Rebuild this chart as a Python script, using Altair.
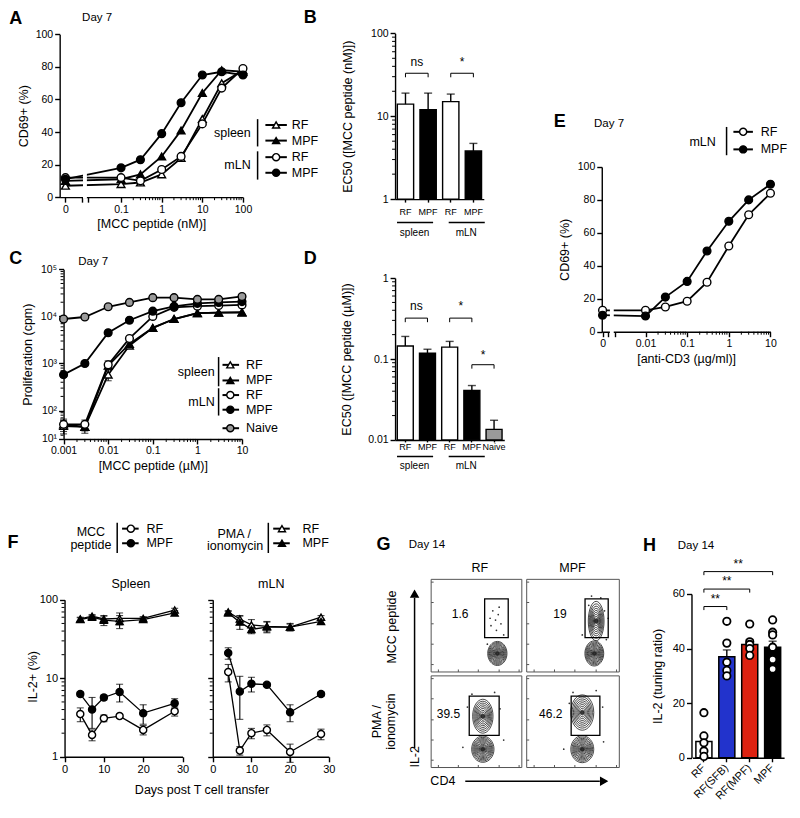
import math
import altair as alt
import pandas as pd

# ============================ DATA ============================
A_conc = [0, 0.1, 0.3, 1, 3, 10, 30, 100]
A_spleen_RF = [7, 8, 9, 14, 24, 48, 70, 78]
A_spleen_MPF = [10, 11, 14, 25, 41, 64, 78, 77]
A_mLN_RF = [12, 12, 10, 17, 25, 45, 67, 79]
A_mLN_MPF = [11, 18, 23, 39, 58, 75, 77, 75]

B_groups = ["spleen RF", "spleen MPF", "mLN RF", "mLN MPF"]
B_ec50 = [14, 12, 15, 3.8]
B_sem = [5, 7, 3.5, 0.9]

C_conc = [0.001, 0.003, 0.01, 0.03, 0.1, 0.3, 1, 3, 10]
C_spleen_RF = [47, 45, 580, 2400, 5700, 8800, 11700, 12000, 12300]
C_spleen_MPF = [51, 45, 900, 2600, 5700, 8800, 11700, 12000, 12000]
C_mLN_RF = [51, 51, 940, 3400, 10000, 15600, 16500, 17000, 17500]
C_mLN_MPF = [580, 1000, 4500, 8300, 12900, 16300, 18900, 19800, 20600]
C_naive = [8800, 9700, 16000, 19800, 25000, 25000, 23000, 23000, 26500]
C_spleen_RF_err = [15, 12, 150, 0, 0, 0, 0, 0, 0]
C_spleen_MPF_err = [8, 8, 0, 0, 0, 0, 0, 0, 0]
C_mLN_RF_err = [15, 12, 200, 0, 0, 0, 0, 0, 0]
C_mLN_MPF_err = [60, 100, 0, 0, 0, 0, 0, 0, 0]

D_groups = ["spleen RF", "spleen MPF", "mLN RF", "mLN MPF", "Naive"]
D_ec50 = [0.145, 0.118, 0.14, 0.041, 0.0135]
D_sem = [0.045, 0.014, 0.025, 0.006, 0.004]

E_conc = [0, 0.01, 0.03, 0.1, 0.3, 1, 3, 10]
E_RF = [13, 13, 15, 18.5, 30, 52, 71, 84]
E_MPF = [10, 9.5, 21, 30.5, 49, 67, 80, 89.5]

F_days = [4, 7, 10, 14, 20, 28]
F_spleen_MCC_RF = [3.5, 1.9, 3.1, 3.3, 2.2, 3.8]
F_spleen_MCC_RF_err = [0.7, 0.3, 0.3, 0.2, 0.3, 0.5]
F_spleen_MCC_MPF = [6.3, 4.0, 5.7, 6.7, 3.6, 4.8]
F_spleen_MCC_MPF_err = [0.4, 1.7, 0.4, 1.7, 1.0, 0.7]
F_spleen_PMA_RF = [57, 62, 57, 58, 58, 74]
F_spleen_PMA_RF_err = [3, 3, 5, 10, 3, 4]
F_spleen_PMA_MPF = [56, 60, 55, 53, 56, 68]
F_spleen_PMA_MPF_err = [3, 3, 8, 10, 4, 5]
F_mLN_MCC_RF = [12, 1.2, 2.0, 2.2, 1.15, 1.95]
F_mLN_MCC_RF_err = [3, 0.15, 0.3, 0.35, 0.3, 0.3]
F_mLN_MCC_MPF = [21, 6.8, 8.5, 8.3, 3.7, 6.3]
F_mLN_MCC_MPF_err = [3.5, 3.8, 1.8, 0.4, 0.9, 0.4]
F_mLN_PMA_RF = [70, 57, 48, 46, 45, 60]
F_mLN_PMA_RF_err = [3, 6, 8, 7, 4, 3]
F_mLN_PMA_MPF = [68, 52, 42, 45, 45, 53]
F_mLN_PMA_MPF_err = [3, 10, 5, 7, 5, 3]

G_cells = ["RF / MCC peptide", "MPF / MCC peptide", "RF / PMA", "MPF / PMA"]
G_percent = ["1.6", "19", "39.5", "46.2"]

H_groups = ["RF", "RF(SFB)", "RF(MPF)", "MPF"]
H_mean = [6, 37, 41.5, 40.5]
H_sem = [2.0, 2.5, 1.8, 2.2]
H_colors = ["white", "#2233cc", "#dd2211", "black"]
H_points = {
    "RF": [16.5, 8, 5.5, 2.5, 0.5],
    "RF(SFB)": [50, 42, 35, 32, 30],
    "RF(MPF)": [49, 42.5, 41.5, 40, 37.5],
    "MPF": [50.5, 46, 45, 40.5, 36, 32.5],
}

# ============================ LAYOUT ============================
S = 0.975
W, H = 780, 796
FONT = "Liberation Sans"
TS = 12.5   # axis-title font size
LS = 10.5   # tick-label font size


def X(v):
    return round((v - 1) * S, 2)


def Y(v):
    return round((v - 1) * S, 2)


def axis(orient, pos, **kw):
    d = dict(grid=False, domainColor="black", domainWidth=1.4, tickColor="black", tickWidth=1.4,
             tickSize=5, labelFont=FONT, labelFontSize=LS, labelColor="black", labelPadding=2,
             labelOverlap=False, labelFlush=False, labelBound=False, titleFont=FONT, titleFontSize=TS,
             titleFontWeight="normal", titleColor="black", title=None)
    d.update(kw)
    d["offset"] = -X(pos) if orient == "left" else Y(pos) - H
    return alt.Axis(orient=orient, **d)


class Ctx:
    """scales + axes of one panel; every layer of the panel repeats them (so axes merge cleanly)"""

    def __init__(self, xs, xa, ys, ya):
        self.xs, self.xa, self.ys, self.ya = xs, xa, ys, ya

    def x(self, f):
        return alt.X(f, scale=self.xs, axis=self.xa)

    def y(self, f):
        return alt.Y(f, scale=self.ys, axis=self.ya)


def long(xs, series, errs=None):
    rows = []
    for name, vals in series.items():
        ee = (errs or {}).get(name, [0] * len(vals))
        for x, v, e in zip(xs, vals, ee):
            rows.append(dict(x=x, val=v, series=name, lo=v - e, hi=v + e, err=e))
    return pd.DataFrame(rows)


def minor_x(vals, ctx, yref, ln=3):
    return alt.Chart(pd.DataFrame({"v": vals})).mark_rule(color="black", strokeWidth=1).encode(
        x=ctx.x("v:Q"), y=alt.value(Y(yref)), y2=alt.value(Y(yref) + ln))


def minor_y(vals, ctx, xref, ln=3):
    return alt.Chart(pd.DataFrame({"v": vals})).mark_rule(color="black", strokeWidth=1).encode(
        y=ctx.y("v:Q"), x=alt.value(X(xref) - ln), x2=alt.value(X(xref)))


def gap(ctx, a, b, ytop, ybot):
    return alt.Chart(pd.DataFrame({"a": [a], "b": [b]})).mark_rect(color="white").encode(
        x=ctx.x("a:Q"), x2="b:Q", y=alt.value(Y(ytop)), y2=alt.value(Y(ybot) + 1.5))


def curve_panel(df, ctx, styles, calc=None, lw=1.8, size=60, cap=7, under=(), over=()):
    base = alt.Chart(df)
    xf = "x:Q"
    if calc is not None:
        base = base.transform_calculate(pos=calc)
        xf = "pos:Q"
    layers = []
    names = list(styles)
    for s in names:
        layers.append(base.transform_filter(alt.datum.series == s).mark_line(
            color="black", strokeWidth=lw).encode(x=ctx.x(xf), y=ctx.y("val:Q")))
    layers.extend(under)
    if df["err"].max() > 0:
        eb = base.transform_filter("datum.err > 0")
        layers.append(eb.mark_rule(color="black", strokeWidth=1.1).encode(x=ctx.x(xf), y=ctx.y("lo:Q"), y2="hi:Q"))
        for f in ("lo", "hi"):
            layers.append(eb.mark_tick(orient="horizontal", size=cap, thickness=1.1, color="black").encode(
                x=ctx.x(xf), y=ctx.y(f"{f}:Q")))
    for s in names:
        shape, fill = styles[s]
        layers.append(base.transform_filter(alt.datum.series == s).mark_point(
            shape=shape, filled=True, fill=fill, stroke="black", strokeWidth=1.4, size=size, opacity=1).encode(
            x=ctx.x(xf), y=ctx.y("val:Q")))
    layers.extend(over)
    return alt.layer(*layers)


def bar_panel(groups, vals, errs, fills, ctx, base_val, brackets, sig, dx, minors):
    df = pd.DataFrame({"cat": groups, "val": vals, "hi": [v + e for v, e in zip(vals, errs)],
                       "fill": fills, "base": base_val})
    c = alt.Chart(df)
    layers = [
        c.mark_bar(stroke="black", strokeWidth=1.4).encode(
            x=ctx.x("cat:N"), y=ctx.y("val:Q"), y2="base:Q", fill=alt.Fill("fill:N", scale=None)),
        c.mark_rule(color="black", strokeWidth=1.4).encode(x=ctx.x("cat:N"), y=ctx.y("val:Q"), y2="hi:Q"),
        c.mark_tick(orient="horizontal", size=8, thickness=1.4, color="black").encode(
            x=ctx.x("cat:N"), y=ctx.y("hi:Q")),
    ]
    rows = []
    for i, (c1, c2, lev, end) in enumerate(brackets):
        rows += [dict(cat=c1, v=end, b=i, o=0), dict(cat=c1, v=lev, b=i, o=1),
                 dict(cat=c2, v=lev, b=i, o=2), dict(cat=c2, v=end, b=i, o=3)]
    layers.append(alt.Chart(pd.DataFrame(rows)).mark_line(color="black", strokeWidth=1).encode(
        x=ctx.x("cat:N"), y=ctx.y("v:Q"), detail="b:N", order="o:Q"))
    for off, items in sig:
        layers.append(alt.Chart(pd.DataFrame(items, columns=["cat", "v", "t"])).mark_text(
            font=FONT, fontSize=12, dx=off * dx, baseline="middle", color="black").encode(
            x=ctx.x("cat:N"), y=ctx.y("v:Q"), text="t:N"))
    layers.extend(minors)
    return alt.layer(*layers)


ARC = "M0,-1A{r},1,0,1,1,0,1A{r},1,0,1,1,0,-1Z"

# ----------------------------- Panel A
ZERO_A = -2.368
ctxA = Ctx(
    alt.Scale(domain=[-2.51, 2.0], range=[X(54), X(242)], nice=False, zero=False),
    axis("bottom", 195, values=[ZERO_A, -1.96, -1.816, -1, 0, 1, 2],
         labelExpr="datum.value < -2.2 ? '0' : (datum.value < -1.5 ? '' : format(pow(10, datum.value), '~g'))",
         title="[MCC peptide (nM)]", titlePadding=3),
    alt.Scale(domain=[0, 100], range=[Y(195), Y(28)], nice=False, zero=False),
    axis("left", 54, values=[0, 20, 40, 60, 80, 100], title="CD69+ (%)", titlePadding=5))
a_minor = [math.log10(m * 10 ** e) for e in (-1, 0, 1) for m in range(2, 10)]
panelA = curve_panel(
    long(A_conc, {"spleen RF": A_spleen_RF, "spleen MPF": A_spleen_MPF, "mLN RF": A_mLN_RF, "mLN MPF": A_mLN_MPF}),
    ctxA,
    {"spleen RF": ("triangle-up", "white"), "spleen MPF": ("triangle-up", "black"),
     "mLN RF": ("circle", "white"), "mLN MPF": ("circle", "black")},
    calc=f"datum.x > 0 ? log(datum.x) / LN10 : {ZERO_A}",
    under=[gap(ctxA, -1.936, -1.84, 27, 195), minor_x(a_minor, ctxA, 195)])

# ----------------------------- Panel B
ctxB = Ctx(
    alt.Scale(domain=B_groups, range=[X(398), X(489)], paddingInner=0.28, paddingOuter=0.1),
    axis("bottom", 197, labelExpr="split(datum.label, ' ')[1]", tickSize=3, labelFontSize=9, labelPadding=5,
         labelAngle=0, labelAlign="center", labelBaseline="top"),
    alt.Scale(type="log", domain=[1, 100], range=[Y(197), Y(27)], nice=False),
    axis("left", 398, values=[1, 10, 100], format="~g", title="EC50 ([MCC peptide (nM)])", titlePadding=16))
b_step = (X(489) - X(398)) / (4 - 0.28 + 0.2)
panelB = bar_panel(
    B_groups, B_ec50, B_sem, ["white", "black", "white", "black"], ctxB,
    1, [("spleen RF", "spleen MPF", 33, 29.5), ("mLN RF", "mLN MPF", 33, 29.5)],
    [(0.5, [("spleen RF", 45, "ns"), ("mLN RF", 45, "*")])], b_step,
    [minor_y([m * 10 ** e for e in (0, 1) for m in range(2, 10)], ctxB, 398)])

# ----------------------------- Panel C
C_LO = 25  # bottom of the proliferation axis (labelled 10¹ in the figure)
ctxC = Ctx(
    alt.Scale(type="log", domain=[0.001, 10], range=[X(58), X(241)], nice=False),
    axis("bottom", 443, values=[0.001, 0.01, 0.1, 1, 10], format="~g",
         title="[MCC peptide (µM)]", titlePadding=3),
    alt.Scale(type="log", domain=[C_LO, 100000], range=[Y(443), Y(269)], nice=False),
    axis("left", 58, values=[C_LO, 100, 1000, 10000, 100000],
         labelExpr="datum.value < 50 ? '10¹' : '10' + ['⁰','¹','²','³','⁴','⁵'][round(log(datum.value) / LN10)]",
         title="Proliferation (cpm)", titlePadding=6))
panelC = curve_panel(
    long(C_conc, {"spleen RF": C_spleen_RF, "spleen MPF": C_spleen_MPF, "mLN RF": C_mLN_RF,
                  "mLN MPF": C_mLN_MPF, "Naive": C_naive},
         {"spleen RF": C_spleen_RF_err, "spleen MPF": C_spleen_MPF_err, "mLN RF": C_mLN_RF_err,
          "mLN MPF": C_mLN_MPF_err}),
    ctxC,
    {"spleen RF": ("triangle-up", "white"), "spleen MPF": ("triangle-up", "black"),
     "mLN RF": ("circle", "white"), "mLN MPF": ("circle", "black"), "Naive": ("circle", "#9a9a9a")},
    under=[minor_x([m * 10 ** e for e in (-3, -2, -1, 0) for m in range(2, 10)], ctxC, 443),
           minor_y([m * 10 ** e for e in (1, 2, 3, 4) for m in range(2, 10) if m * 10 ** e > C_LO], ctxC, 58)])

# ----------------------------- Panel D
ctxD = Ctx(
    alt.Scale(domain=D_groups, range=[X(398), X(510)], paddingInner=0.28, paddingOuter=0.1),
    axis("bottom", 444, labelExpr="datum.label == 'Naive' ? 'Naive' : split(datum.label, ' ')[1]",
         tickSize=2, labelFontSize=9, labelPadding=1, labelAngle=0, labelAlign="center", labelBaseline="top"),
    alt.Scale(type="log", domain=[0.01, 1], range=[Y(444), Y(278)], nice=False),
    axis("left", 398, values=[0.01, 0.1, 1], format="~g", title="EC50 ([MCC peptide (µM)])", titlePadding=14))
d_step = (X(510) - X(398)) / (5 - 0.28 + 0.2)
panelD = bar_panel(
    D_groups, D_ec50, D_sem, ["white", "black", "white", "black", "#9a9a9a"], ctxD,
    0.01, [("spleen RF", "spleen MPF", 0.32, 0.285), ("mLN RF", "mLN MPF", 0.32, 0.285),
           ("mLN MPF", "Naive", 0.085, 0.076)],
    [(0.5, [("spleen RF", 0.45, "ns"), ("mLN RF", 0.45, "*"), ("mLN MPF", 0.113, "*")])], d_step,
    [minor_y([m * 10 ** e for e in (-2, -1) for m in range(2, 10)], ctxD, 398)])

# ----------------------------- Panel E
ZERO_E = -3.031
ctxE = Ctx(
    alt.Scale(domain=[-3.05, 1.0], range=[X(610), X(783)], nice=False, zero=False),
    axis("bottom", 333, values=[ZERO_E, -2.89, -2.727, -2, -1, 0, 1],
         labelExpr="datum.value < -3 ? '0' : (datum.value < -2.5 ? '' : format(pow(10, datum.value), '~g'))",
         title="[anti-CD3 (µg/ml)]", titlePadding=3),
    alt.Scale(domain=[0, 100], range=[Y(333), Y(164)], nice=False, zero=False),
    axis("left", 610, values=[0, 20, 40, 60, 80, 100], title="CD69+ (%)", titlePadding=6))
panelE = curve_panel(
    long(E_conc, {"RF": E_RF, "MPF": E_MPF}), ctxE,
    {"RF": ("circle", "white"), "MPF": ("circle", "black")},
    calc=f"datum.x > 0 ? log(datum.x) / LN10 : {ZERO_E}",
    under=[gap(ctxE, -2.855, -2.762, 163, 333),
           minor_x([math.log10(m * 10 ** e) for e in (-2, -1, 0) for m in range(2, 10)], ctxE, 333)])

# ----------------------------- Panel F
f_styles = {"MCC RF": ("circle", "white"), "MCC MPF": ("circle", "black"),
            "PMA RF": ("triangle-up", "white"), "PMA MPF": ("triangle-up", "black")}
f_minor = [m * 10 ** e for e in (0, 1) for m in range(2, 10)]


def f_panel(x0, x1, series, errs, labels):
    ctx = Ctx(
        alt.Scale(domain=[0, 30], range=[X(x0), X(x1)], nice=False, zero=False),
        axis("bottom", 769, values=[0, 10, 20, 30], labelFontSize=11),
        alt.Scale(type="log", domain=[1, 100], range=[Y(769), Y(608)], nice=False),
        axis("left", x0, values=[1, 10, 100], format="~g", labels=labels, labelFontSize=11))
    return curve_panel(long(F_days, series, errs), ctx, f_styles, lw=1.3, size=50, cap=7,
                       under=[minor_y(f_minor, ctx, x0)])


panelF1 = f_panel(59, 180,
                  {"MCC RF": F_spleen_MCC_RF, "MCC MPF": F_spleen_MCC_MPF,
                   "PMA RF": F_spleen_PMA_RF, "PMA MPF": F_spleen_PMA_MPF},
                  {"MCC RF": F_spleen_MCC_RF_err, "MCC MPF": F_spleen_MCC_MPF_err,
                   "PMA RF": F_spleen_PMA_RF_err, "PMA MPF": F_spleen_PMA_MPF_err}, True)
panelF2 = f_panel(211, 330,
                  {"MCC RF": F_mLN_MCC_RF, "MCC MPF": F_mLN_MCC_MPF,
                   "PMA RF": F_mLN_PMA_RF, "PMA MPF": F_mLN_PMA_MPF},
                  {"MCC RF": F_mLN_MCC_RF_err, "MCC MPF": F_mLN_MCC_MPF_err,
                   "PMA RF": F_mLN_PMA_RF_err, "PMA MPF": F_mLN_PMA_MPF_err}, False)

# ----------------------------- Panel G (flow plots, schematic)
G_frames = [(435, 528, 587, 682), (533, 628, 587, 682), (435, 528, 686, 780), (533, 628, 686, 780)]
G_gates = [(59, 85, 37, 79), (63, 88, 37, 79), (42, 75, 35, 78), (48, 79, 35, 78)]
G_text_pos = [(32, 63), (36, 63), (19, 58), (26, 58)]
G_blobs = [
    [(73, 20, 0.8, [6, 18, 35, 60, 90, 130, 180, 240, 310, 390, 480, 580])],
    [(73, 20, 0.75, [6, 18, 35, 60, 95, 140, 195, 260, 335, 420, 520, 630]),
     (75, 55, 0.4, [30, 90, 180, 300, 450, 640, 880, 1180, 1550])],
    [(57, 20, 0.85, [6, 18, 38, 65, 100, 150, 210, 280, 360, 450, 560, 690]),
     (57, 56, 0.6, [25, 70, 140, 240, 360, 510, 690, 900, 1150])],
    [(60, 20, 0.85, [6, 18, 38, 68, 105, 155, 215, 290, 375, 470, 590, 730]),
     (60, 60, 0.65, [25, 75, 150, 255, 385, 545, 740, 970, 1250])],
]
G_dots = [
    [(66, 50), (71, 56), (74, 62), (68, 66), (77, 52), (72, 45), (75, 70), (65, 58), (80, 40), (62, 30)],
    [(70, 82), (80, 80), (67, 72), (84, 66), (88, 58), (60, 40), (86, 35)],
    [(45, 80), (70, 82), (76, 64), (40, 66), (80, 30), (35, 22)],
    [(50, 82), (75, 84), (82, 66), (46, 70), (83, 28), (40, 20)],
]
G_ticks = [8, 30, 52, 75, 97]


def g_panel(i):
    fx0, fx1, fy0, fy1 = G_frames[i]
    xs = alt.Scale(domain=[0, 100], range=[X(fx0), X(fx1)], nice=False, zero=False)
    ys = alt.Scale(domain=[0, 100], range=[Y(fy1), Y(fy0)], nice=False, zero=False)
    ex = lambda f: alt.X(f, scale=xs, axis=None)
    ey = lambda f: alt.Y(f, scale=ys, axis=None)
    frame = alt.Chart(pd.DataFrame({"a": [0], "b": [100], "c": [0], "d": [100]})).mark_rect(
        fill="white", fillOpacity=0, stroke="#555555", strokeWidth=1).encode(x=ex("a:Q"), x2="b:Q", y=ey("c:Q"), y2="d:Q")
    gx0, gx1, gy0, gy1 = G_gates[i]
    gate = alt.Chart(pd.DataFrame({"a": [gx0], "b": [gx1], "c": [gy0], "d": [gy1]})).mark_rect(
        fill="white", fillOpacity=0, stroke="black", strokeWidth=1.3).encode(x=ex("a:Q"), x2="b:Q", y=ey("c:Q"), y2="d:Q")
    rows = []
    for cx, cy, r, sizes in G_blobs[i]:
        for s in sizes:
            rows.append(dict(x=cx, y=cy, s=s, sh=ARC.format(r=r)))
    rings = alt.Chart(pd.DataFrame(rows)).mark_point(filled=False, color="#1a1a1a", strokeWidth=0.8, opacity=1).encode(
        x=ex("x:Q"), y=ey("y:Q"), size=alt.Size("s:Q", scale=None), shape=alt.Shape("sh:N", scale=None))
    cores = alt.Chart(pd.DataFrame([dict(x=b[0], y=b[1]) for b in G_blobs[i]])).mark_point(
        filled=True, color="#222222", size=20, opacity=0.9).encode(x=ex("x:Q"), y=ey("y:Q"))
    dots = alt.Chart(pd.DataFrame(G_dots[i], columns=["x", "y"])).mark_circle(color="#333333", size=3, opacity=1).encode(
        x=ex("x:Q"), y=ey("y:Q"))
    tx, ty = G_text_pos[i]
    txt = alt.Chart(pd.DataFrame({"x": [tx], "y": [ty], "t": [G_percent[i]]})).mark_text(
        font=FONT, fontSize=12, color="black").encode(x=ex("x:Q"), y=ey("y:Q"), text="t:N")
    tk_l = alt.Chart(pd.DataFrame({"v": G_ticks})).mark_rule(color="#555555", strokeWidth=1).encode(
        y=ey("v:Q"), x=alt.value(X(fx0)), x2=alt.value(X(fx0) + 2.5))
    tk_b = alt.Chart(pd.DataFrame({"v": G_ticks})).mark_rule(color="#555555", strokeWidth=1).encode(
        x=ex("v:Q"), y=alt.value(Y(fy1) - 2.5), y2=alt.value(Y(fy1)))
    return alt.layer(frame, tk_l, tk_b, rings, cores, dots, gate, txt)


panelsG = [g_panel(i) for i in range(4)]

# ----------------------------- Panel H
ctxH = Ctx(
    alt.Scale(domain=H_groups, range=[X(703), X(797)], paddingInner=0.3, paddingOuter=0.15),
    axis("bottom", 770, labelAngle=-45, labelAlign="right", labelBaseline="middle", labelPadding=4,
         tickSize=4, labelFontSize=11),
    alt.Scale(domain=[0, 60], range=[Y(770), Y(602)], nice=False, zero=False),
    axis("left", 702, values=[0, 20, 40, 60], title="IL-2 (tuning ratio)", titlePadding=8, labelFontSize=11))
h_step = (X(797) - X(703)) / (4 - 0.3 + 0.3)
h_df = pd.DataFrame({"cat": H_groups, "val": H_mean, "hi": [m + e for m, e in zip(H_mean, H_sem)],
                     "fill": H_colors, "base": 0})
h_pts = pd.DataFrame([dict(cat=k, v=v) for k, vs in H_points.items() for v in vs])
h_layers = [
    alt.Chart(h_df).mark_bar(stroke="black", strokeWidth=1.5).encode(
        x=ctxH.x("cat:N"), y=ctxH.y("val:Q"), y2="base:Q", fill=alt.Fill("fill:N", scale=None)),
    alt.Chart(h_df).mark_rule(color="black", strokeWidth=1.4).encode(x=ctxH.x("cat:N"), y=ctxH.y("val:Q"), y2="hi:Q"),
    alt.Chart(h_df).mark_tick(orient="horizontal", size=8, thickness=1.4, color="black").encode(
        x=ctxH.x("cat:N"), y=ctxH.y("hi:Q")),
    alt.Chart(h_pts).mark_point(shape="circle", filled=True, fill="white", stroke="black", strokeWidth=1.8,
                                size=55, opacity=1).encode(x=ctxH.x("cat:N"), y=ctxH.y("v:Q")),
]
h_br = []
for i, (c2, lev) in enumerate([("RF(SFB)", 55.4), ("RF(MPF)", 61.8), ("MPF", 68.2)]):
    h_br += [dict(cat="RF", v=lev - 1.3, b=i, o=0), dict(cat="RF", v=lev, b=i, o=1),
             dict(cat=c2, v=lev, b=i, o=2), dict(cat=c2, v=lev - 1.3, b=i, o=3)]
h_layers.append(alt.Chart(pd.DataFrame(h_br)).mark_line(color="black", strokeWidth=1).encode(
    x=ctxH.x("cat:N"), y=ctxH.y("v:Q"), detail="b:N", order="o:Q"))
h_layers.append(alt.Chart(pd.DataFrame({"cat": ["RF", "RF(SFB)"], "v": [58.2, 71.0], "t": ["**", "**"]})).mark_text(
    font=FONT, fontSize=12, dx=h_step / 2, color="black").encode(x=ctxH.x("cat:N"), y=ctxH.y("v:Q"), text="t:N"))
h_layers.append(alt.Chart(pd.DataFrame({"cat": ["RF(SFB)"], "v": [64.6], "t": ["**"]})).mark_text(
    font=FONT, fontSize=12, color="black").encode(x=ctxH.x("cat:N"), y=ctxH.y("v:Q"), text="t:N"))
panelH = alt.layer(*h_layers)

# ============================ ANNOTATIONS (pixel space) ============================


def texts(rows, align="left", weight="normal", size=11):
    df = pd.DataFrame(rows, columns=["x", "y", "t", "a"])
    df["x"] = df["x"].map(X)
    df["y"] = df["y"].map(Y)
    return alt.Chart(df).mark_text(align=align, baseline="middle", font=FONT, fontSize=size,
                                   fontWeight=weight, color="black").encode(
        x=alt.X("x:Q", scale=None, axis=None), y=alt.Y("y:Q", scale=None, axis=None), text="t:N",
        angle=alt.Angle("a:Q", scale=None))


def rules(rows, width=1.5):
    df = pd.DataFrame(rows, columns=["x", "y", "x2", "y2"])
    for c in ("x", "x2"):
        df[c] = df[c].map(X)
    for c in ("y", "y2"):
        df[c] = df[c].map(Y)
    return alt.Chart(df).mark_rule(color="black", strokeWidth=width).encode(
        x=alt.X("x:Q", scale=None, axis=None), y=alt.Y("y:Q", scale=None, axis=None), x2="x2:Q", y2="y2:Q")


def symbols(rows, size=55):
    df = pd.DataFrame(rows, columns=["x", "y", "sh", "f"])
    df["x"] = df["x"].map(X)
    df["y"] = df["y"].map(Y)
    return alt.Chart(df).mark_point(filled=True, stroke="black", strokeWidth=1.4, size=size, opacity=1).encode(
        x=alt.X("x:Q", scale=None, axis=None), y=alt.Y("y:Q", scale=None, axis=None),
        shape=alt.Shape("sh:N", scale=None), fill=alt.Fill("f:N", scale=None))


letters = texts([(9, 12, "A", 0), (311, 11, "B", 0), (9, 258, "C", 0), (311, 258, "D", 0), (567, 118, "E", 0),
                 (6, 550, "F", 0), (386, 552, "G", 0), (659, 553, "H", 0)], align="center", weight="bold", size=18)
day_labels = texts([(77, 11, "Day 7", 0), (73, 261, "Day 7", 0), (602, 120, "Day 7", 0), (412, 552, "Day 14", 0),
                    (688, 553, "Day 14", 0)], size=11.5)
small_left = texts([
    (292, 121, "RF", 0), (292, 137, "MPF", 0), (292, 154, "RF", 0), (292, 170, "MPF", 0),
    (245, 367, "RF", 0), (245, 383, "MPF", 0), (245, 398, "RF", 0), (245, 413, "MPF", 0), (245, 432, "Naive", 0),
    (773, 128, "RF", 0), (773, 146, "MPF", 0),
    (143, 535, "RF", 0), (143, 550, "MPF", 0), (303, 535, "RF", 0), (303, 550, "MPF", 0),
], size=12.5)
small_right = texts([(250, 129, "spleen", 0), (250, 162, "mLN", 0), (213, 374, "spleen", 0), (213, 405, "mLN", 0),
                     (727, 138, "mLN", 0)], align="right", size=12.5)
group_labels = texts([(418, 232, "spleen", 0), (471, 232, "mLN", 0), (418, 471, "spleen", 0), (471, 471, "mLN", 0)],
                     align="center", size=10)
small_center = texts([
    (86, 538, "MCC", 0), (86, 552, "peptide", 0), (233, 540, "PMA /", 0), (234, 553, "ionomycin", 0),
    (127, 592, "Spleen", 0), (271, 592, "mLN", 0), (200, 803, "Days post T cell transfer", 0),
    (27, 687, "IL-2+ (%)", 270),
    (485, 575, "RF", 0), (580, 575, "MPF", 0), (395, 636, "MCC peptide", 270),
    (379, 733, "PMA /", 270), (394, 733, "ionomycin", 270), (418, 769, "IL-2", 270), (447, 794, "CD4", 0),
], align="center", size=12.5)
ann_rules = rules([
    (257, 115, 257, 143), (257, 148, 257, 177),
    (217, 359, 217, 389), (217, 391, 217, 419),
    (738, 123, 738, 152),
    (400, 221, 437, 221), (453, 221, 490, 221), (400, 461, 437, 461), (453, 461, 490, 461),
    (113, 529, 113, 560), (268, 529, 268, 560),
    (418, 760, 418, 606), (470, 794, 608, 794),
])
leg_lines = rules([
    (265, 121, 287, 121), (265, 137, 287, 137), (265, 154, 287, 154), (265, 170, 287, 170),
    (221, 367, 238, 367), (221, 383, 238, 383), (221, 398, 238, 398), (221, 413, 238, 413), (221, 432, 238, 432),
    (745, 128, 765, 128), (745, 146, 765, 146),
    (118, 535, 135, 535), (118, 550, 135, 550), (273, 535, 290, 535), (273, 550, 290, 550),
], width=2)
leg_syms = symbols([
    (276, 121, "triangle-up", "white"), (276, 137, "triangle-up", "black"), (276, 154, "circle", "white"),
    (276, 170, "circle", "black"),
    (229, 367, "triangle-up", "white"), (229, 383, "triangle-up", "black"), (229, 398, "circle", "white"),
    (229, 413, "circle", "black"), (229, 432, "circle", "#9a9a9a"),
    (755, 128, "circle", "white"), (755, 146, "circle", "black"),
    (127, 535, "circle", "white"), (127, 550, "circle", "black"), (282, 535, "triangle-up", "white"),
    (282, 550, "triangle-up", "black"),
    (418, 602, "triangle-up", "black"), (612, 794, "triangle-right", "black"),
], size=50)

chart = alt.layer(
    panelA, panelB, panelC, panelD, panelE, panelF1, panelF2, *panelsG, panelH,
    ann_rules, leg_lines, leg_syms, letters, day_labels, small_left, small_right, group_labels, small_center,
).resolve_scale(x="independent", y="independent").properties(
    width=W, height=H, padding=0, autosize=alt.AutoSizeParams(type="none")
).configure_view(strokeWidth=0)

chart.save("out.html", embed_options={"renderer": "svg", "actions": False})
